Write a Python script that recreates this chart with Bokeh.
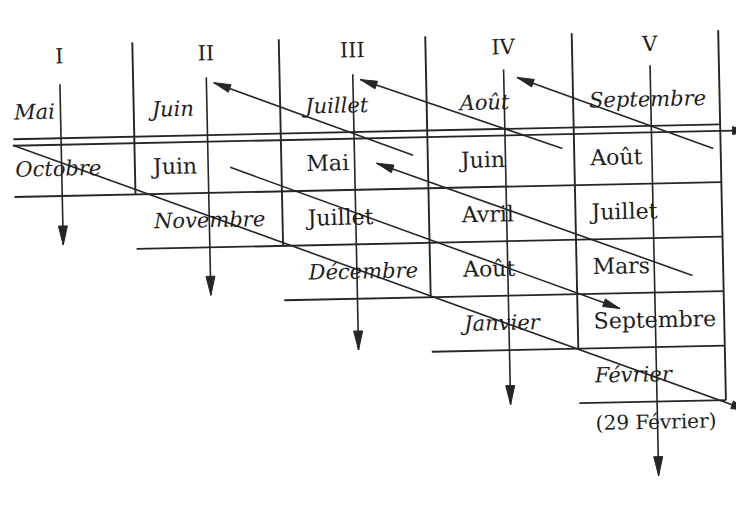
import numpy as np
from bokeh.plotting import figure
from bokeh.models import Range1d
from bokeh.core.properties import value
from bokeh.embed import file_html
from bokeh.resources import INLINE

# ---------------- data ----------------
col_names = ["I", "II", "III", "IV", "V"]
top_row = ["Mai", "Juin", "Juillet", "Août", "Septembre"]          # italic row above the table
col_cells = [                                                       # table cells, top to bottom
    ["Octobre"],
    ["Juin", "Novembre"],
    ["Mai", "Juillet", "Décembre"],
    ["Juin", "Avril", "Août", "Janvier"],
    ["Août", "Juillet", "Mars", "Septembre", "Février"],
]
footnote = "(29 Février)"

# diagonal arrows in table units (column, row); arrow head at the "to" end
diag_from_u = [4.95, 3.92, 2.90, 0.17, 1.65, 4.79]
diag_from_v = [1.38, 1.32, 1.39, 1.05, 1.54, 3.70]
diag_to_u = [3.62, 2.55, 1.55, 5.15, 4.29, 2.65]
diag_to_v = [0.00, -0.02, -0.02, 6.20, 4.28, 1.52]

# vertical arrows per column
vert_top = [-0.05, -0.12, -0.12, -0.15, -0.17]
vert_bot = [2.90, 3.88, 4.94, 6.00, 7.36]

# ---------------- layout ----------------
W, H = 736, 504
OX, OY, SU, SV = 136.0, 134.5, 146.5, 54.5        # pixel origin / scale of table units
X0, X1 = 1 - OX / SU, 1 + (W - OX) / SU
Y1, Y0 = 1 - OY / SV, 1 + (H - OY) / SV             # Y1 = top, Y0 = bottom
TILT = np.deg2rad(1.2)                              # the scanned page is slightly rotated
CX, CY = 370.0, 240.0
left_edge = 0.174
col_left = [left_edge, 1, 2, 3, 4]
col_center = [0.50, 1.50, 2.50, 3.53, 4.53]
text_inset = [0.01, 0.123, 0.171, 0.225, 0.109]
INK = "#1e1e1e"
LINE = "#262626"
FONT = value("DejaVu Serif")


def to_px(u, v):
    return OX + SU * (np.asarray(u, float) - 1), OY + SV * (np.asarray(v, float) - 1)


def from_px(x, y):
    return 1 + (x - OX) / SU, 1 + (y - OY) / SV


def rot(u, v):
    x, y = to_px(u, v)
    dx, dy = x - CX, y - CY
    c, s = np.cos(TILT), np.sin(TILT)
    return from_px(CX + dx * c + dy * s, CY - dx * s + dy * c)


def seg(u0, v0, u1, v1):
    a, b = rot([u0, u1], [v0, v1])
    return list(a), list(b)


def head(u0, v0, u1, v1, L=17, w=4.0):
    x0, y0 = to_px(u0, v0)
    x1, y1 = to_px(u1, v1)
    d = np.array([x1 - x0, y1 - y0], float)
    d /= np.hypot(*d)
    n = np.array([-d[1], d[0]]) * w
    b = np.array([x1, y1]) - L * d
    xs = [x1, b[0] + n[0], b[0] - n[0]]
    ys = [y1, b[1] + n[1], b[1] - n[1]]
    pu, pv = from_px(np.array(xs), np.array(ys))
    return list(pu), list(pv)


p = figure(width=W, height=H, output_backend="svg", toolbar_location=None,
           x_range=Range1d(X0, X1), y_range=Range1d(Y0, Y1),
           min_border=0, min_border_left=0, min_border_right=0,
           min_border_top=0, min_border_bottom=0)
p.axis.visible = False
p.grid.visible = False
p.outline_line_color = None
p.background_fill_color = "white"
p.border_fill_color = "white"

n_cols = len(col_names)

# ---- table lines ----
xs, ys = [], []
for dv in (-0.06, 0.06):                          # double line under the top row
    a, b = seg(left_edge, 1 + dv, 5, 1 + dv); xs.append(a); ys.append(b)
for r in range(1, n_cols + 1):                    # staircase row bottoms
    a, b = seg(col_left[r - 1], r + 1, 5, r + 1); xs.append(a); ys.append(b)
for k in range(1, n_cols + 1):                    # column separators
    a, b = seg(k, -0.79, k, min(k, n_cols) + 1); xs.append(a); ys.append(b)
p.multi_line(xs, ys, line_color=LINE, line_width=1.9)

# ---- arrows ----
ax, ay, hx, hy = [], [], [], []


def arrow(u0, v0, u1, v1, L=17, w=4.0):
    a, b = seg(u0, v0, u1, v1)
    ax.append(a); ay.append(b)
    pu, pv = head(a[0], b[0], a[1], b[1], L, w)
    hx.append(pu); hy.append(pv)


for a0, b0, a1, b1 in zip(diag_from_u, diag_from_v, diag_to_u, diag_to_v):
    arrow(a0, b0, a1, b1)
for u, t, b in zip(col_center, vert_top, vert_bot):
    arrow(u, t, u, b, L=19, w=4.5)
arrow(5, 1.06, 5.18, 1.06, L=14, w=4)           # continuation of the double line

p.multi_line(ax, ay, line_color=LINE, line_width=1.6)
p.patches(hx, hy, fill_color=LINE, line_color=LINE, line_width=1)

# ---- texts ----
def put(u, v, labels, italic=False, size="22px", align="left"):
    a, b = rot(u, v)
    p.text(x=list(a), y=list(b), text=labels, text_font=FONT,
           text_font_style="italic" if italic else "normal", text_font_size=size,
           text_align=align, text_baseline="middle", text_color=INK, angle=TILT)


put(col_center, [-0.56] * n_cols, col_names, size="21px", align="center")
put([col_left[k] + text_inset[k] for k in range(n_cols)], [0.45] * n_cols, top_row,
    italic=True, size="21px")

rx, ry, rt, ix, iy, it = [], [], [], [], [], []
for k, cells in enumerate(col_cells):
    for r, label in enumerate(cells, start=1):
        x = col_left[k] + text_inset[k]
        y = r + 0.5
        if r == len(cells):
            ix.append(x); iy.append(y); it.append(label)
        else:
            rx.append(x); ry.append(y); rt.append(label)
put(rx, ry, rt, size="22px")
put(ix, iy, it, italic=True, size="21px")
put([4.52], [6.37], [footnote], size="20px", align="center")

open("out.html", "w").write(file_html(p, INLINE))
